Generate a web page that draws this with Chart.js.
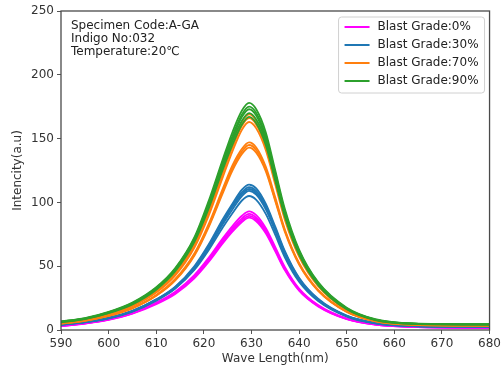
<!DOCTYPE html>
<html lang="en">
<head>
<meta charset="UTF-8" />
<title>Intencity vs Wave Length</title>
<script src="https://cdn.jsdelivr.net/npm/chart.js"></script>
<style>
  body { margin: 0; background: #fff; }
  canvas { display: block; }
</style>
</head>
<body>
<canvas id="spectrumChart" width="504" height="371"></canvas>
<script>
// wavelength sample points (nm)
const waveLengths = [590, 595, 600, 605, 610, 614, 618, 621, 624, 626, 628, 629.5, 631, 633, 635, 637, 640, 644, 650, 656, 664, 680];

const gradeLabels = ["Blast Grade:0%", "Blast Grade:30%", "Blast Grade:70%", "Blast Grade:90%"];
const gradeColors = ["#ff00ff", "#1f77b4", "#ff7f0e", "#2ca02c"];

// replicate measurements for each blast grade
const grade0 = [
  [3.3, 5.3, 8.4, 13.5, 21.5, 30, 43, 56.5, 72, 81.5, 89.5, 93, 90, 80, 65, 49.5, 32.5, 19.5, 9.0, 4.5, 2.6, 1.8],
  [3.1, 5.1, 8.1, 13.1, 21, 29.3, 42, 55.2, 70.5, 79.8, 87.5, 91, 88, 78.3, 63.6, 48.5, 31.8, 19.1, 8.8, 4.4, 2.5, 1.7],
  [3.4, 5.4, 8.3, 13.3, 20.8, 28.9, 41.3, 54.3, 69.3, 78.5, 86, 89.5, 86.6, 77, 62.6, 47.7, 31.3, 18.8, 8.7, 4.3, 2.5, 1.7],
  [3.0, 5.0, 7.9, 12.8, 20.3, 28.3, 40.5, 53.3, 68, 77, 84.6, 88, 85.2, 75.8, 61.6, 46.9, 30.8, 18.5, 8.5, 4.2, 2.4, 1.6]
];
const grade30 = [
  [4.3, 6.3, 9.5, 15, 24, 34, 50, 67, 87, 99, 110, 114, 111, 99, 81, 62, 41, 24.5, 11.3, 5.6, 3.3, 2.6],
  [4.1, 6.1, 9.3, 14.7, 23.5, 33.4, 49, 65.8, 85.5, 97.5, 108, 112, 109, 97.5, 79.5, 61, 40.3, 24, 11.1, 5.5, 3.2, 2.5],
  [4.4, 6.4, 9.6, 15.1, 23.8, 33.6, 49, 65.5, 84.5, 96.5, 106.5, 110.5, 107.5, 96, 78.5, 60, 39.7, 23.7, 11, 5.4, 3.2, 2.5],
  [4.0, 6.0, 9.1, 14.4, 23, 32.6, 47.8, 64, 83, 94.5, 105, 109, 106, 94.5, 77.5, 59.2, 39.2, 23.4, 10.8, 5.3, 3.1, 2.4],
  [4.2, 6.2, 9.3, 14.6, 23.2, 32.5, 47, 62.5, 80.5, 91.5, 101.5, 105, 102, 91, 74.5, 57, 37.8, 22.6, 10.5, 5.2, 3.1, 2.4]
];
const grade70 = [
  [5.8, 8.2, 12.6, 19.4, 30.5, 44.5, 67, 93, 125, 146, 163, 169, 164, 146, 118, 90, 59.5, 35.5, 16.3, 7.8, 4.6, 3.8],
  [5.6, 8.0, 12.3, 19.0, 30.0, 43.8, 66, 91.5, 123, 143, 160, 166, 161, 143, 116, 88, 58.5, 35, 16, 7.6, 4.5, 3.7],
  [5.5, 7.8, 12.0, 18.6, 29.3, 42.8, 64.5, 89.5, 120, 140, 157, 163, 158, 141, 114, 86.5, 57.5, 34.3, 15.7, 7.5, 4.4, 3.6],
  [5.2, 7.4, 11.3, 17.4, 27.5, 40, 60, 83, 111, 129, 142, 147, 143, 128, 104, 79, 52.5, 31.5, 14.5, 7.0, 4.2, 3.5],
  [5.0, 7.2, 11.0, 17.0, 27.0, 39.3, 59, 81.5, 109, 127, 140, 145, 141, 126, 102, 78, 51.8, 31, 14.3, 6.9, 4.1, 3.4],
  [5.1, 7.3, 11.1, 17.1, 26.8, 38.8, 58.2, 80.5, 107.5, 125, 138, 143, 139, 124.5, 101, 77, 51.2, 30.6, 14.1, 6.8, 4.1, 3.4]
];
const grade90 = [
  [6.8, 9.3, 14.2, 21.5, 33.5, 48.5, 72.5, 101, 134, 155, 172, 178, 173, 155, 125, 95, 63, 37.5, 17.5, 8.5, 5.2, 4.6],
  [6.5, 9.0, 13.8, 21.0, 33.0, 48.0, 71.5, 99, 132, 152, 169, 175, 170, 152, 123, 93, 62, 37, 17, 8.2, 5.0, 4.4],
  [6.2, 8.8, 13.5, 20.6, 32.4, 47.2, 70.8, 98, 130, 150, 167, 173, 168, 150, 121, 92, 61, 36.5, 16.8, 8.0, 4.9, 4.3],
  [6.6, 9.1, 13.9, 21.2, 32.8, 47.5, 70.2, 97, 128, 148, 164, 170, 165, 148, 119, 91, 60.5, 36, 16.6, 8.1, 5.0, 4.4],
  [6.0, 8.5, 13.2, 20.1, 31.6, 46.0, 68.8, 95, 126, 145, 161, 167, 162, 145, 117, 89, 59, 35.2, 16.2, 7.8, 4.8, 4.2]
];

const infoLines = ["Specimen Code:A-GA", "Indigo No:032", "Temperature:20℃"];

const xTicks = { min: 590, max: 680, step: 10 };
const yTicks = { min: 0, max: 250, step: 50 };

const FONT = '"DejaVu Sans", sans-serif';
const groups = [grade0, grade30, grade70, grade90];

const datasets = [];
groups.forEach((reps, g) => {
  reps.forEach((vals) => {
    datasets.push({
      label: gradeLabels[g],
      data: vals.map((v, i) => ({ x: waveLengths[i], y: v })),
      borderColor: gradeColors[g],
      borderWidth: 1.8,
      pointRadius: 0,
      fill: false,
      cubicInterpolationMode: "monotone",
      order: groups.length - g  // green drawn on top
    });
  });
});

// frame, text block and legend drawn inside the plot area
const insidePlot = {
  id: "insidePlot",
  afterDraw(chart) {
    const { ctx, chartArea: a } = chart;
    ctx.save();
    ctx.strokeStyle = "#4a4a4a";
    ctx.lineWidth = 1.3;
    ctx.strokeRect(a.left, a.top, a.right - a.left, a.bottom - a.top);

    ctx.font = "12px " + FONT;
    ctx.textBaseline = "middle";
    ctx.fillStyle = "#222";
    infoLines.forEach((t, i) => ctx.fillText(t, a.left + 10, a.top + 15 + i * 13));

    const bw = 146, bh = 76;
    const bx = a.right - bw - 5, by = a.top + 6;
    ctx.beginPath();
    ctx.roundRect(bx, by, bw, bh, 3);
    ctx.fillStyle = "rgba(255,255,255,0.85)";
    ctx.fill();
    ctx.strokeStyle = "#d0d0d0";
    ctx.lineWidth = 1;
    ctx.stroke();

    gradeLabels.forEach((t, i) => {
      const y = by + 10 + i * 18;
      ctx.beginPath();
      ctx.moveTo(bx + 6, y);
      ctx.lineTo(bx + 31, y);
      ctx.strokeStyle = gradeColors[i];
      ctx.lineWidth = 2;
      ctx.stroke();
      ctx.fillStyle = "#222";
      ctx.fillText(t, bx + 39, y);
    });
    ctx.restore();
  }
};

new Chart(document.getElementById("spectrumChart"), {
  type: "line",
  data: { datasets: datasets },
  options: {
    responsive: false,
    animation: false,
    devicePixelRatio: 1,
    layout: { padding: { left: 0, right: 14, top: 11, bottom: 0 } },
    plugins: {
      legend: { display: false },
      tooltip: { enabled: false }
    },
    scales: {
      x: {
        type: "linear",
        min: xTicks.min,
        max: xTicks.max,
        afterFit: (s) => { s.height = 41; },
        ticks: { stepSize: xTicks.step, color: "#333", font: { family: FONT, size: 12 }, padding: 3, maxRotation: 0 },
        grid: { drawOnChartArea: false, drawTicks: true, tickLength: 4, color: "#555" },
        border: { display: false },
        title: { display: true, text: "Wave Length(nm)", color: "#333", font: { family: FONT, size: 12 }, padding: { top: 0, bottom: 5 } }
      },
      y: {
        min: yTicks.min,
        max: yTicks.max,
        afterFit: (s) => { s.width = 61; },
        ticks: { stepSize: yTicks.step, color: "#333", font: { family: FONT, size: 12 }, padding: 3 },
        grid: { drawOnChartArea: false, drawTicks: true, tickLength: 4, color: "#555" },
        border: { display: false },
        title: { display: true, text: "Intencity(a.u)", color: "#333", font: { family: FONT, size: 12 }, padding: { top: 11, bottom: 0 } }
      }
    }
  },
  plugins: [insidePlot]
});
</script>
</body>
</html>
